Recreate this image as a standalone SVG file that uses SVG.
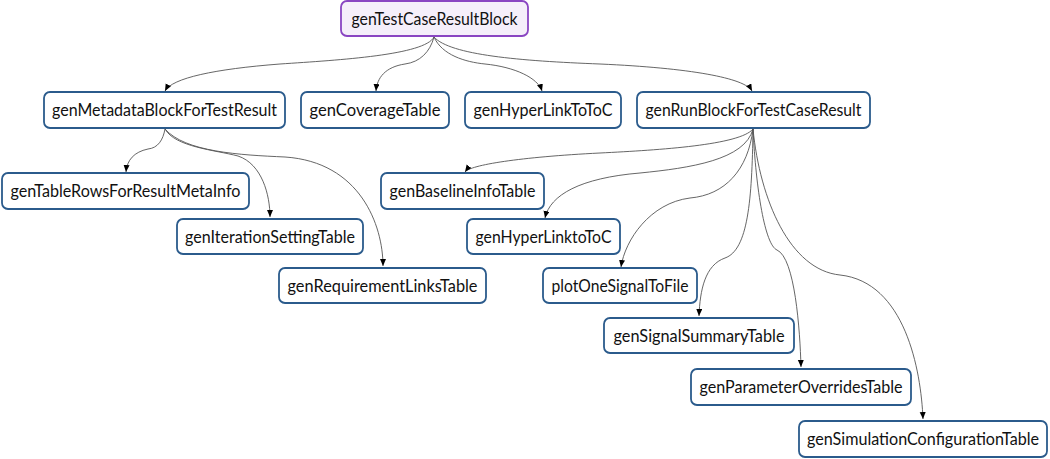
<svg xmlns="http://www.w3.org/2000/svg" width="1050" height="459" viewBox="0 0 1050 459">
<defs>
<style>
.n rect{fill:#ffffff;stroke:#2b5b8c;stroke-width:1.8}
.root rect{fill:#f5effa;stroke:#8a46c2;stroke-width:1.8}
text{font-family:Lato,"Liberation Sans",sans-serif;font-size:17px;fill:#111;text-anchor:middle}
.e path{fill:none;stroke:#555;stroke-width:0.9;marker-end:url(#ah)}
</style>
<marker id="ah" markerUnits="userSpaceOnUse" markerWidth="7" markerHeight="7" refX="7" refY="3" orient="auto">
<path d="M0,0 L7,3 L0,6 z" fill="#000"/>
</marker>
</defs>
<rect width="1050" height="459" fill="#ffffff"/>
<g id="connectors" class="e">
<path d="M434,37 C425,55 340,60 280,64 C215,69 172,78 165,91"/>
<path d="M434,37 C430,52 420,62 405,64 C385,67 377,78 376,91"/>
<path d="M434,37 C442,55 465,62 485,64 C515,67 538,78 542,91"/>
<path d="M434,37 C450,55 520,61 600,64 C690,68 745,78 752,91"/>
<path d="M165,129 C163,140 158,148 148,149 C134,152 127,160 126,172"/>
<path d="M165,129 C175,147 215,150 238,156 C262,164 270,195 270,217"/>
<path d="M165,129 C185,152 240,155 285,157 C360,162 383,225 383,266"/>
<path d="M753,129 C740,145 660,150 600,153 C520,157 470,165 465,172"/>
<path d="M753,129 C745,160 690,168 640,173 C580,178 550,195 545,218"/>
<path d="M753,129 C748,170 725,195 690,198 C650,203 625,240 621,267"/>
<path d="M753,129 C752,200 748,250 725,258 C705,265 700,290 699,316"/>
<path d="M753,129 C756,190 765,245 777,250 C795,258 800,330 801,367"/>
<path d="M753,129 C760,200 790,270 840,275 C905,282 921,370 923,419"/>
</g>
<g id="genTestCaseResultBlock" class="root"><rect x="341" y="1" width="187" height="35" rx="6"/><text x="434.5" y="24.5" textLength="166" lengthAdjust="spacingAndGlyphs">genTestCaseResultBlock</text></g>
<g id="genMetadataBlockForTestResult" class="n"><rect x="44" y="92" width="241" height="36" rx="6"/><text x="164.5" y="116" textLength="225" lengthAdjust="spacingAndGlyphs">genMetadataBlockForTestResult</text></g>
<g id="genCoverageTable" class="n"><rect x="301" y="92" width="148" height="36" rx="6"/><text x="375" y="116" textLength="131" lengthAdjust="spacingAndGlyphs">genCoverageTable</text></g>
<g id="genHyperLinkToToC" class="n"><rect x="465" y="92" width="156" height="36" rx="6"/><text x="543" y="116" textLength="139" lengthAdjust="spacingAndGlyphs">genHyperLinkToToC</text></g>
<g id="genRunBlockForTestCaseResult" class="n"><rect x="637" y="92" width="233" height="36" rx="6"/><text x="753.5" y="116" textLength="216" lengthAdjust="spacingAndGlyphs">genRunBlockForTestCaseResult</text></g>
<g id="genTableRowsForResultMetaInfo" class="n"><rect x="2" y="173" width="247" height="36" rx="6"/><text x="125.5" y="197" textLength="230" lengthAdjust="spacingAndGlyphs">genTableRowsForResultMetaInfo</text></g>
<g id="genIterationSettingTable" class="n"><rect x="177" y="219" width="186" height="35" rx="6"/><text x="270" y="242.5" textLength="170" lengthAdjust="spacingAndGlyphs">genIterationSettingTable</text></g>
<g id="genRequirementLinksTable" class="n"><rect x="279" y="268" width="207" height="35" rx="6"/><text x="382.5" y="291.5" textLength="190" lengthAdjust="spacingAndGlyphs">genRequirementLinksTable</text></g>
<g id="genBaselineInfoTable" class="n"><rect x="381" y="173" width="163" height="36" rx="6"/><text x="462.5" y="197" textLength="146" lengthAdjust="spacingAndGlyphs">genBaselineInfoTable</text></g>
<g id="genHyperLinktoToC" class="n"><rect x="467" y="219" width="153" height="35" rx="6"/><text x="543.5" y="242.5" textLength="136" lengthAdjust="spacingAndGlyphs">genHyperLinktoToC</text></g>
<g id="plotOneSignalToFile" class="n"><rect x="543" y="268" width="154" height="35" rx="6"/><text x="620" y="291.5" textLength="137" lengthAdjust="spacingAndGlyphs">plotOneSignalToFile</text></g>
<g id="genSignalSummaryTable" class="n"><rect x="604" y="318" width="190" height="35" rx="6"/><text x="699" y="341.5" textLength="171" lengthAdjust="spacingAndGlyphs">genSignalSummaryTable</text></g>
<g id="genParameterOverridesTable" class="n"><rect x="691" y="369" width="220" height="36" rx="6"/><text x="801" y="393" textLength="203" lengthAdjust="spacingAndGlyphs">genParameterOverridesTable</text></g>
<g id="genSimulationConfigurationTable" class="n"><rect x="799" y="421" width="248" height="36" rx="6"/><text x="923" y="445" textLength="232" lengthAdjust="spacingAndGlyphs">genSimulationConfigurationTable</text></g>
</svg>
